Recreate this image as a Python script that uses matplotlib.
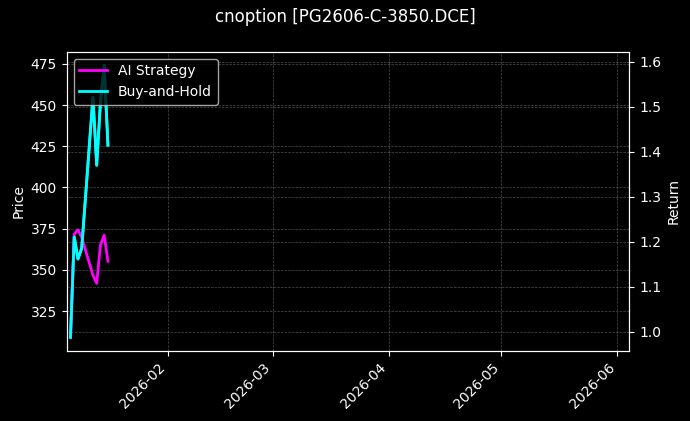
import matplotlib
matplotlib.use("Agg")
import matplotlib.pyplot as plt
import matplotlib.dates as mdates
import pandas as pd

plt.style.use("dark_background")

dates = pd.to_datetime([
    "2026-01-06", "2026-01-07", "2026-01-08", "2026-01-09",
    "2026-01-12", "2026-01-13", "2026-01-14", "2026-01-15", "2026-01-16",
])
price = [309.0, 370.1, 356.6, 363.2, 454.9, 413.6, 451.8, 474.1, 425.7]
bh_return = [0.988, 1.211, 1.162, 1.186, 1.521, 1.370, 1.510, 1.592, 1.415]
ai_return = [0.988, 1.217, 1.227, 1.210, 1.126, 1.108, 1.193, 1.215, 1.157]

title = "cnoption [PG2606-C-3850.DCE]"
x_start = pd.Timestamp("2026-01-05")
x_end = pd.Timestamp("2026-06-04 04:00")

fig = plt.figure(figsize=(6.9, 4.21), dpi=100)
ax1 = fig.add_subplot(111)
fig.subplots_adjust(left=0.0967, right=0.912, top=0.877, bottom=0.1663)

ax1.plot(dates, price, color="cyan", linewidth=2)
ax1.set_ylabel("Price")
ax1.grid(True, linestyle="--", linewidth=0.5, alpha=0.3)

ax2 = ax1.twinx()
ax2.plot(dates, ai_return, color="magenta", linewidth=2, label="AI Strategy")
ax2.plot(dates, bh_return, color="cyan", linewidth=2, label="Buy-and-Hold")
ax2.set_ylabel("Return")
ax2.grid(True, linestyle="--", linewidth=0.5, alpha=0.3)

ax1.set_xlim(x_start, x_end)
ax1.xaxis.set_major_locator(mdates.MonthLocator())
ax1.xaxis.set_major_formatter(mdates.DateFormatter("%Y-%m"))
plt.setp(ax1.get_xticklabels(), rotation=45, ha="right")

ax2.legend(loc="upper left")
fig.suptitle(title, fontsize=12)

fig.savefig("out.png", dpi=100)
